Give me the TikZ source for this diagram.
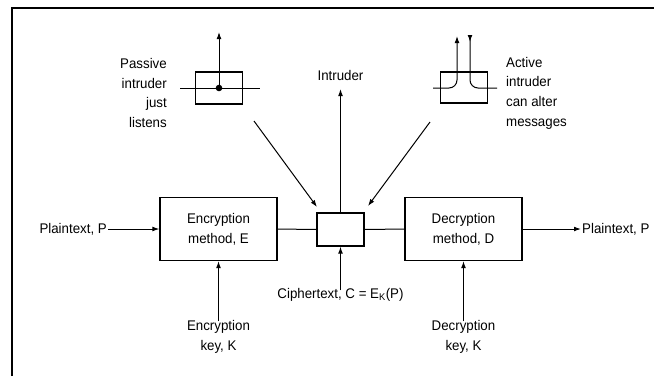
\documentclass[tikz,border=0pt]{standalone}
\usepackage{fontspec}
\setmainfont[FakeStretch=0.95]{Liberation Sans}
\usetikzlibrary{arrows.meta}
\tikzset{
  lbl/.style={inner sep=1pt, font=\fontsize{14}{19.7}\selectfont, align=center},
  blk/.style={draw, line width=1.2pt, minimum width=117pt, minimum height=63pt, inner sep=0pt, lbl},
  smallbox/.style={draw, line width=1.2pt, minimum width=47pt, minimum height=33pt, inner sep=0pt},
  conn/.style={line width=1pt},
  arr/.style={conn, -{Latex[length=7pt,width=4.8pt]}},
  frame/.style={line width=2pt}
}
\begin{document}
\begin{tikzpicture}[x=1pt,y=-1pt]
\useasboundingbox (0,0) rectangle (654,376);
\draw[frame] (12,376) -- (12,7.5) -- (654,7.5);

% main chain
\node[blk] (enc) at (218.5,229) {Encryption\\method, E};
\node[smallbox] (mid) at (340.5,229.5) {};
\node[blk] (dec) at (463.5,229) {Decryption\\method, D};
\node[lbl, anchor=east] (ptin) at (108,229) {Plaintext, P};
\node[lbl, anchor=west] (ptout) at (581,229) {Plaintext, P};
\draw[arr] (ptin.east) -- (enc.west);
\draw[conn] (enc.east) -- (mid.west);
\draw[conn] (mid.east) -- (dec.west);
\draw[arr] (dec.east) -- (ptout.west);

% intruder
\node[lbl, inner sep=0pt] (intr) at (340.5,75) {Intruder};
\coordinate (intrtip) at (340.5,89);
\draw[arr] (mid.north) -- (intrtip);

% ciphertext and keys
\node[lbl] (cipher) at (340.5,295) {Ciphertext, C = E\textsubscript{K}(P)};
\draw[arr] ([yshift=-3pt]cipher.north) -- (mid.south);
\node[lbl] (enckey) at (218.5,337) {Encryption\\key, K};
\node[lbl] (deckey) at (463.5,337) {Decryption\\key, K};
\draw[arr] ([yshift=-2pt]enckey.north) -- (enc.south);
\draw[arr] ([yshift=-2pt]deckey.north) -- (dec.south);

% passive intruder
\node[smallbox, minimum height=32pt] (pbox) at (219,88) {};
\coordinate (pl) at (180,88);
\coordinate (pr) at (260,88);
\draw[conn] (pl) -- (pr);
\fill (pbox.center) circle (3.3pt);
\coordinate (ptop) at (219,32);
\draw[arr] (pbox.center) -- (ptop);
\node[lbl, align=right, anchor=east] (ptxt) at (168,93) {Passive\\intruder\\just\\listens};

% active intruder
\node[smallbox, minimum height=31pt] (abox) at (464,87.5) {};
\coordinate (al) at (433,88);
\coordinate (atopl) at (457,36);
\coordinate (ar) at (497,88);
\coordinate (atopr) at (470,35);
\draw[arr, rounded corners=8pt] (al) -- (457,88) -- (atopl);
\draw[conn, {Latex[length=7pt,width=4.8pt,reversed]}-, rounded corners=8pt] (atopr) -- (470,88) -- (ar);
\node[lbl, align=left, anchor=west] (atxt) at (505,93) {Active\\intruder\\can alter\\messages};

% diagonal arrows
\coordinate (d1s) at (254,121);
\coordinate (d1e) at (317,207);
\coordinate (d2s) at (430,122);
\coordinate (d2e) at (368,206);
\draw[arr] (d1s) -- (d1e);
\draw[arr] (d2s) -- (d2e);
\end{tikzpicture}
\end{document}
